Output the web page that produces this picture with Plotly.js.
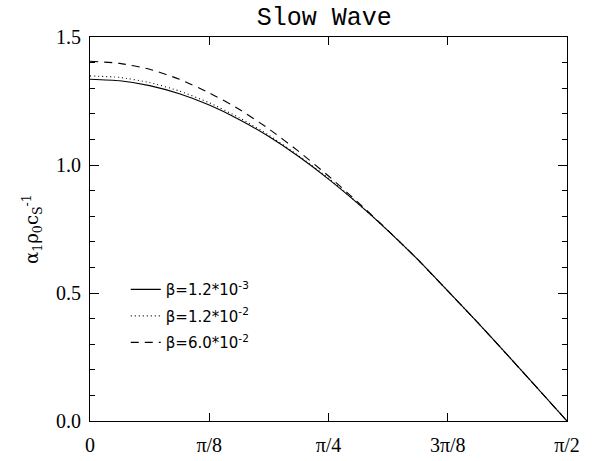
<!DOCTYPE html>
<html>
<head>
<meta charset="utf-8">
<script src="https://cdn.plot.ly/plotly-3.0.1.min.js"></script>
<style>html,body{margin:0;padding:0;background:#fff}#chart{width:597px;height:461px}</style>
</head>
<body>
<div id="chart"></div>
<script>
// angle samples: k*pi/32, k = 0..16
const steps = [0,1,2,3,4,5,6,7,8,9,10,11,12,13,14,15,16];
const solidBeta = [1.335,1.329,1.310,1.278,1.234,1.178,1.111,1.033,0.945,0.848,0.743,0.630,0.508,0.385,0.258,0.129,0.000];
const dottedBeta = [1.348,1.342,1.322,1.289,1.243,1.185,1.116,1.036,0.948,0.849,0.743,0.630,0.508,0.385,0.258,0.129,0.000];
const dashedBeta = [1.405,1.397,1.374,1.335,1.282,1.218,1.141,1.053,0.957,0.853,0.744,0.630,0.508,0.385,0.258,0.129,0.000];
const seriesNames = ["β=1.2*10<sup>-3</sup>","β=1.2*10<sup>-2</sup>","β=6.0*10<sup>-2</sup>"];
const xTickVals = [0, Math.PI/8, Math.PI/4, 3*Math.PI/8, Math.PI/2];
const xTickText = ["0","π/8","π/4","3π/8","π/2"];

const theta = steps.map(k => k*Math.PI/32);
const mk = (y, name, dash, g) => ({
  x: theta, y: y, name: name, type: 'scatter', mode: 'lines', legendgroup: g,
  line: {color: '#000', width: 1.1, dash: dash, shape: 'spline', smoothing: 0.6}
});
const data = [
  mk(solidBeta, seriesNames[0], 'solid', 'a'),
  mk(dottedBeta, seriesNames[1], '1px,3px', 'b'),
  mk(dashedBeta, seriesNames[2], '8px,6px', 'c')
];
const axisFont = {family: 'Liberation Serif, DejaVu Serif, serif', size: 20, color: '#000'};
const layout = {
  width: 597, height: 461,
  margin: {l: 90, r: 30, t: 37, b: 40},
  paper_bgcolor: '#fff', plot_bgcolor: '#fff',
  title: {text: 'Slow Wave', font: {family: 'Liberation Mono, Courier New, monospace', size: 25, color: '#000'},
          x: 0.543, xanchor: 'center', y: 0.965, yanchor: 'middle'},
  xaxis: {range: [0, Math.PI/2], tickvals: xTickVals, ticktext: xTickText,
          ticks: 'inside', ticklen: 8, tickcolor: '#000', mirror: 'ticks',
          showline: true, linecolor: '#000', linewidth: 1, showgrid: false, zeroline: false,
          tickfont: axisFont, ticklabelstandoff: 6},
  yaxis: {range: [0, 1.5], dtick: 0.5, tick0: 0, tickformat: '.1f',
          ticks: 'inside', ticklen: 9, tickcolor: '#000', mirror: 'ticks',
          minor: {dtick: 0.1, ticks: 'inside', ticklen: 5, tickcolor: '#000', showgrid: false},
          showline: true, linecolor: '#000', linewidth: 1, showgrid: false, zeroline: false,
          tickfont: axisFont, ticklabelstandoff: 4,
          title: {text: 'α<sub>1</sub>ρ<sub>0</sub>c<sub>S</sub><sup>-1</sup>', standoff: 12,
                  font: {family: 'DejaVu Serif, serif', size: 18, color: '#000'}}},
  showlegend: true,
  legend: {x: 0.075, y: 0.385, xanchor: 'left', yanchor: 'top', bgcolor: 'rgba(0,0,0,0)',
           font: {family: 'DejaVu Sans, sans-serif', size: 15, color: '#000'},
           tracegroupgap: 4, itemwidth: 30}
};
Plotly.newPlot('chart', data, layout, {displayModeBar: false, staticPlot: true});
</script>
</body>
</html>
